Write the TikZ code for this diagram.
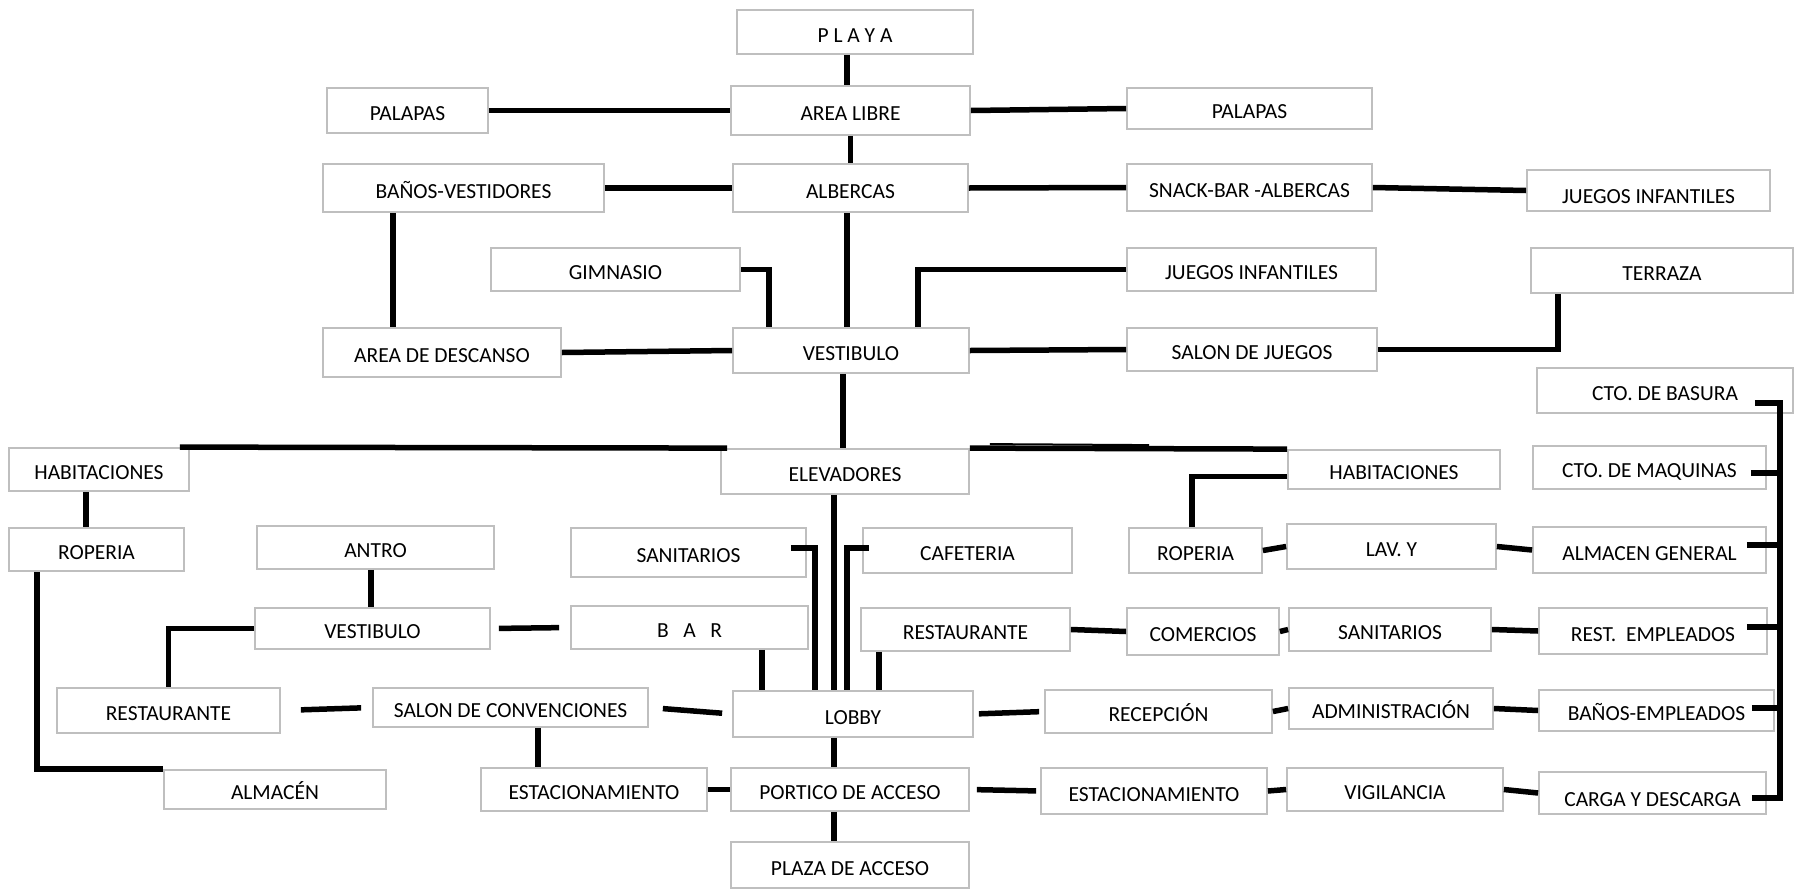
\documentclass[tikz,border=0pt]{standalone}
\usepackage{fontspec}
\setmainfont{Carlito}
\begin{document}
\begin{tikzpicture}[x=1pt, y=-1pt,
    sala/.style={draw=black!25, line width=1.8pt, fill=white, inner sep=2pt,
                 font=\fontsize{21.5}{26}\selectfont,
                 text height=20pt, text depth=0pt},
    caja/.style 2 args={minimum width=#1pt, minimum height=#2pt},
    bajo/.style={text height=26pt},
    enlace/.style={line width=5.5pt, black}]
    \useasboundingbox (0,0) rectangle (1796,889);

    % Playa, albercas y vestibulo
    \node[sala, caja={236}{44}] (playa)       at (855,32)      {P L A Y A};
    \node[sala, caja={239}{49}] (arealibre)   at (850.5,110.5) {AREA LIBRE};
    \node[sala, caja={161}{45}] (palapasI)    at (407.5,110.5) {PALAPAS};
    \node[sala, caja={245}{41}] (palapasD)    at (1249.5,108.5) {PALAPAS};
    \node[sala, caja={281}{48}] (banos)       at (463.5,188)   {BAÑOS-VESTIDORES};
    \node[sala, caja={235}{48}] (albercas)    at (850.5,188)   {ALBERCAS};
    \node[sala, caja={245}{47}] (snack)       at (1249.5,187.5) {SNACK-BAR -ALBERCAS};
    \node[sala, bajo, caja={243}{41}] (juegosI) at (1648.5,190.5) {JUEGOS INFANTILES};
    \node[sala, caja={249}{43}] (gimnasio)    at (615.5,269.5) {GIMNASIO};
    \node[sala, caja={249}{43}] (juegosII)    at (1251.5,269.5) {JUEGOS INFANTILES};
    \node[sala, caja={262}{45}] (terraza)     at (1662,270.5)  {TERRAZA};
    \node[sala, caja={238}{49}] (descanso)    at (442,352.5)   {AREA DE DESCANSO};
    \node[sala, caja={236}{45}] (vestibulo)   at (851,350.5)   {VESTIBULO};
    \node[sala, caja={250}{43}] (salonjuegos) at (1252,349.5)  {SALON DE JUEGOS};
    \node[sala, caja={256}{45}] (basura)      at (1665,390.5)  {CTO. DE BASURA};

    % Elevadores, habitaciones y servicios
    \node[sala, caja={180}{43}] (habI)        at (99,469.5)    {HABITACIONES};
    \node[sala, caja={248}{45}] (elevadores)  at (845,471.5)   {ELEVADORES};
    \node[sala, caja={212}{39}] (habD)        at (1394,469.5)  {HABITACIONES};
    \node[sala, caja={233}{43}] (maquinas)    at (1649.5,467.5) {CTO. DE MAQUINAS};
    \node[sala, caja={175}{43}] (ropI)        at (96.5,549.5)  {ROPERIA};
    \node[sala, caja={237}{43}] (antro)       at (375.5,547.5) {ANTRO};
    \node[sala, caja={235}{49}] (sanitI)      at (688.5,552.5) {SANITARIOS};
    \node[sala, caja={209}{45}] (cafeteria)   at (967.5,550.5) {CAFETERIA};
    \node[sala, caja={133}{45}] (ropD)        at (1195.5,550.5) {ROPERIA};
    \node[sala, caja={209}{45}] (lav)         at (1391.5,546.5) {LAV. Y};
    \node[sala, caja={233}{46}] (almgen)      at (1649.5,550)  {ALMACEN GENERAL};
    \node[sala, caja={235}{41}] (vestII)      at (372.5,628.5) {VESTIBULO};
    \node[sala, caja={237}{43}] (bar)         at (689.5,627.5) {B~~~A~~~R};
    \node[sala, caja={209}{43}] (restD)       at (965.5,629.5) {RESTAURANTE};
    \node[sala, caja={152}{47}] (comercios)   at (1203,631.5)  {COMERCIOS};
    \node[sala, caja={202}{43}] (sanitD)      at (1390,629.5)  {SANITARIOS};
    \node[sala, caja={228}{46}] (restemp)     at (1653,631)    {REST.~ EMPLEADOS};

    % Lobby y accesos
    \node[sala, caja={223}{45}] (restI)       at (168.5,710.5) {RESTAURANTE};
    \node[sala, caja={275}{39}] (convenciones) at (510.5,707.5) {SALON DE CONVENCIONES};
    \node[sala, caja={240}{46}] (lobby)       at (853,714)     {LOBBY};
    \node[sala, caja={227}{43}] (recepcion)   at (1158.5,711.5) {RECEPCIÓN};
    \node[sala, caja={204}{41}] (admin)       at (1391,708.5)  {ADMINISTRACIÓN};
    \node[sala, caja={235}{41}] (banosemp)    at (1656.5,710.5) {BAÑOS-EMPLEADOS};
    \node[sala, caja={222}{39}] (almacen)     at (275,789.5)   {ALMACÉN};
    \node[sala, caja={226}{43}] (estacI)      at (594,789.5)   {ESTACIONAMIENTO};
    \node[sala, caja={238}{43}] (portico)     at (850,789.5)   {PORTICO DE ACCESO};
    \node[sala, caja={226}{46}] (estacD)      at (1154,791)    {ESTACIONAMIENTO};
    \node[sala, caja={216}{43}] (vigilancia)  at (1395,789.5)  {VIGILANCIA};
    \node[sala, bajo, caja={227}{42}] (carga) at (1652.5,793)  {CARGA Y DESCARGA};
    \node[sala, caja={238}{46}] (plaza)       at (850,865)     {PLAZA DE ACCESO};

    % Enlaces de la zona de playa
    \draw[enlace] ([xshift=-8pt]playa.south) -- ([xshift=-3.5pt]arealibre.north);
    \draw[enlace] (palapasI.east) -- (arealibre.west);
    \draw[enlace] (arealibre.east) -- (palapasD.west);
    \draw[enlace] (arealibre.south) -- (albercas.north);
    \draw[enlace] (banos.east) -- (albercas.west);
    \draw[enlace] (albercas.east) -- (snack.west);
    \draw[enlace] (snack.east) -- (juegosI.west);
    \draw[enlace] ([xshift=-70.5pt]banos.south) -- ([xshift=-49pt]descanso.north);
    \draw[enlace] (descanso.east) -- (vestibulo.west);
    \draw[enlace] ([xshift=-3.5pt]albercas.south) -- ([xshift=-4pt]vestibulo.north);
    \draw[enlace] (gimnasio.east) -| ([xshift=-82pt]vestibulo.north);
    \draw[enlace] ([xshift=67pt]vestibulo.north) |- (juegosII.west);
    \draw[enlace] (vestibulo.east) -- (salonjuegos.west);
    \draw[enlace] (salonjuegos.east) -| ([xshift=-104pt]terraza.south);
    \draw[enlace] ([xshift=-8pt]vestibulo.south) -- ([xshift=-2pt]elevadores.north);

    % Enlaces de elevadores y habitaciones
    \draw[enlace] ([xshift=-10pt]habI.north east) -- ([xshift=7pt]elevadores.north west);
    \draw[enlace] (elevadores.north east) -- (habD.north west);
    \draw[line width=2pt] ([xshift=20pt,yshift=4pt]elevadores.north east)
        -- ([xshift=-138pt,yshift=4pt]habD.north west);
    \draw[enlace] ([xshift=-13pt]habI.south) -- ([xshift=-10.5pt]ropI.north);
    \draw[enlace] ([xshift=-59.5pt]ropI.south) |- (almacen.north west);
    \draw[enlace] ([yshift=-7pt]habD.west) -| ([xshift=-3.5pt]ropD.north);
    \draw[enlace] (ropD.east) -- (lav.west);
    \draw[enlace] (lav.east) -- (almgen.west);

    % Enlaces del lobby
    \draw[enlace] ([xshift=-4.5pt]antro.south) -- ([xshift=-1.5pt]vestII.north);
    \draw[enlace] (vestII.west) -| (restI.north);
    \draw[enlace, shorten <=8pt, shorten >=11pt] (vestII.east) -- (bar.west);
    \draw[enlace, shorten <=20pt, shorten >=11pt] (restI.east) -- (convenciones.west);
    \draw[enlace, shorten <=14pt, shorten >=10pt] (convenciones.east) -- (lobby.west);
    \draw[enlace] ([xshift=27.5pt]convenciones.south) -- ([xshift=-56pt]estacI.north);
    \draw[enlace] (estacI.east) -- (portico.west);
    \draw[enlace] ([xshift=-19pt]lobby.south) -- ([xshift=-16pt]portico.north);
    \draw[enlace] ([xshift=-16pt]portico.south) -- ([xshift=-16pt]plaza.north);
    \draw[enlace] ([xshift=-11pt]elevadores.south) -- ([xshift=-19pt]lobby.north);
    \draw[enlace] ([xshift=-16pt,yshift=4.5pt]sanitI.east) -| ([xshift=-38pt]lobby.north);
    \draw[enlace] ([xshift=7pt,yshift=2.5pt]cafeteria.west) -| ([xshift=-6pt]lobby.north);
    \draw[enlace] ([xshift=72.5pt]bar.south) -- ([xshift=-91pt]lobby.north);
    \draw[enlace] ([xshift=-86.5pt]restD.south) -- ([xshift=26pt]lobby.north);
    \draw[enlace] (restD.east) -- (comercios.west);
    \draw[enlace] (comercios.east) -- (sanitD.west);
    \draw[enlace] (sanitD.east) -- (restemp.west);
    \draw[enlace, shorten <=5pt, shorten >=5pt] (lobby.east) -- (recepcion.west);
    \draw[enlace] (recepcion.east) -- (admin.west);
    \draw[enlace] (admin.east) -- (banosemp.west);
    \draw[enlace, shorten <=7pt, shorten >=4pt] (portico.east) -- (estacD.west);
    \draw[enlace] (estacD.east) -- (vigilancia.west);
    \draw[enlace] (vigilancia.east) -- (carga.west);

    % Circulacion de servicio (lado derecho)
    \coordinate (espinaFin) at ([xshift=13pt,yshift=-8pt]carga.east);
    \draw[enlace] ([xshift=-39pt,yshift=-12.5pt]basura.east) -| (espinaFin);
    \draw[enlace] ([xshift=-16pt,yshift=-5.5pt]maquinas.east) -| (espinaFin);
    \draw[enlace] ([xshift=-20pt,yshift=5pt]almgen.east) -| (espinaFin);
    \draw[enlace] ([xshift=-21pt,yshift=4pt]restemp.east) -| (espinaFin);
    \draw[enlace] ([xshift=-23pt,yshift=2.5pt]banosemp.east) -| (espinaFin);
    \draw[enlace] ([xshift=-15pt,yshift=-5pt]carga.east) -| (espinaFin);
\end{tikzpicture}
\end{document}
